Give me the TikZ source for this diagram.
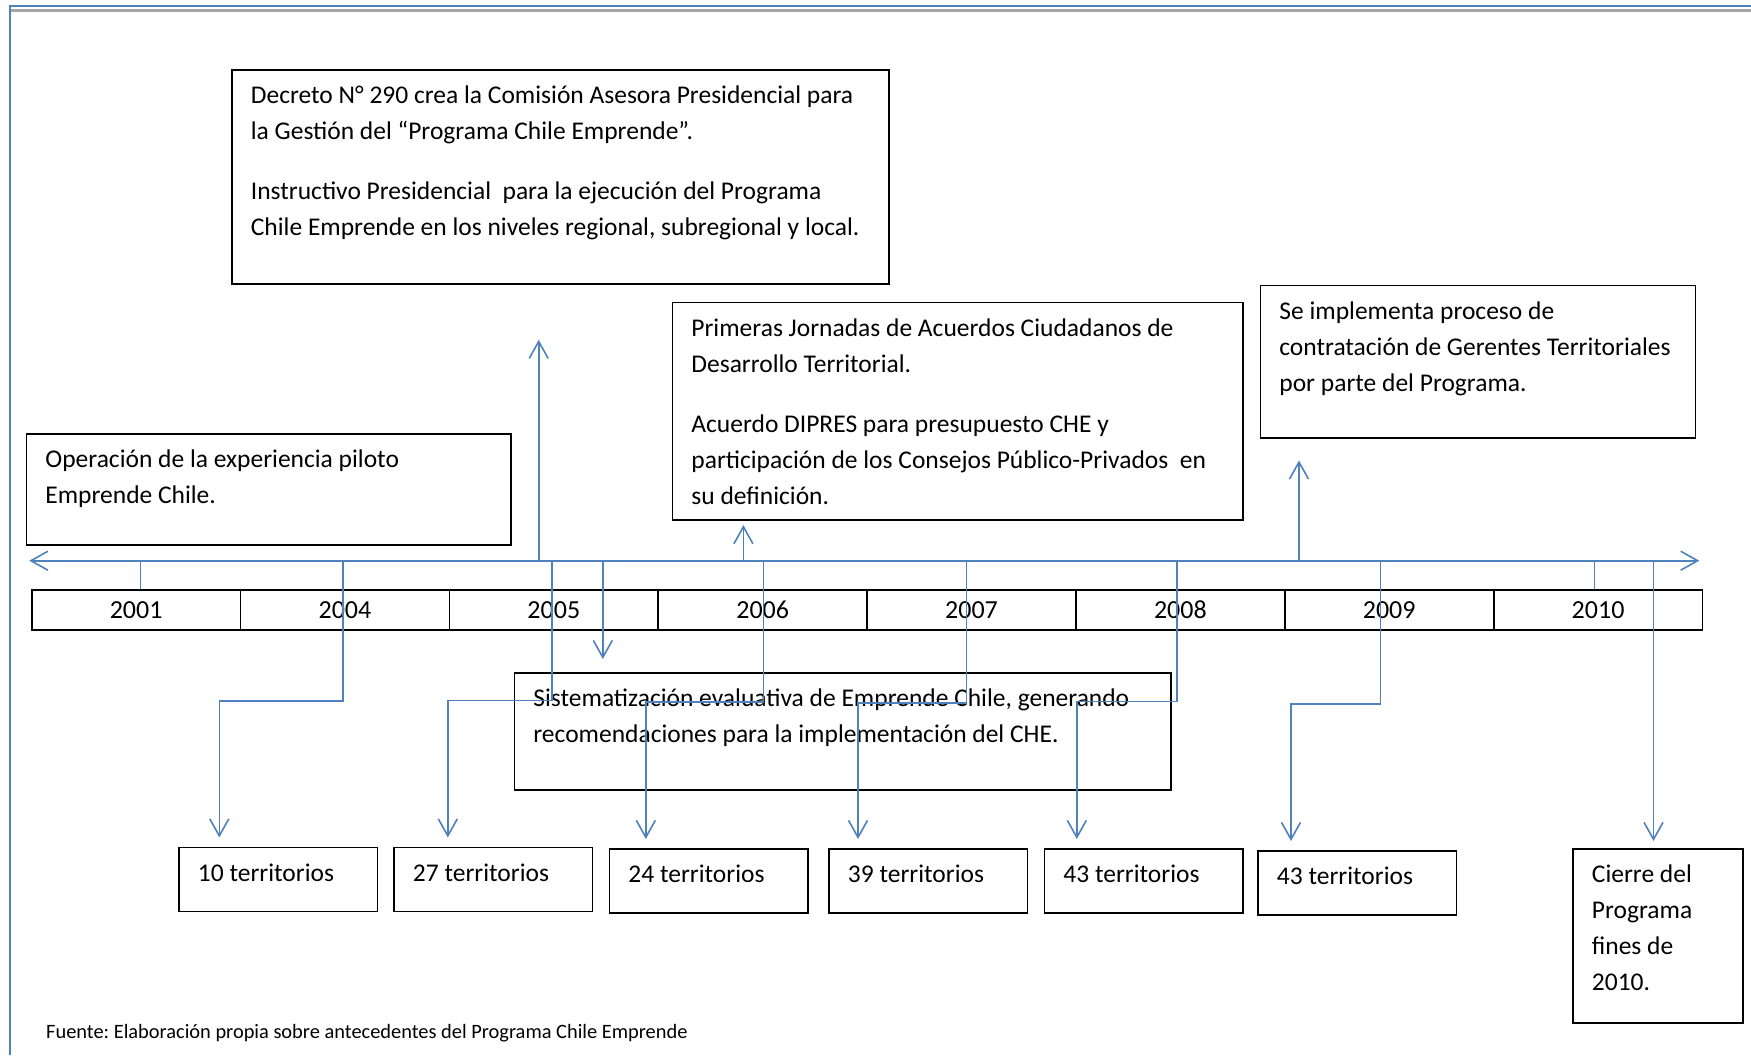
\documentclass[tikz,border=0pt]{standalone}
\usepackage{fontspec}
\setmainfont{Carlito}
\usetikzlibrary{arrows.meta}
\definecolor{chblue}{HTML}{4F81BD}
\definecolor{framegray}{HTML}{A5A5A5}
\frenchspacing
\newcommand{\boxtxt}[3]{\parbox[c][#2][t]{#1}{\raggedright\rule{0pt}{34pt}#3}}
\tikzset{
  evbox/.style={draw=black, line width=1.8pt, anchor=north west, inner xsep=19pt, inner ysep=0pt},
  yearcell/.style={draw=black, line width=1.8pt, minimum width=208.85pt, minimum height=40pt, inner sep=0pt, font=\fontsize{26}{30}\selectfont},
  yrtick/.style={draw=chblue, line width=1.6pt},
  tline/.style={draw=chblue, line width=1.6pt, {Straight Barb[length=17pt,width=19pt]}-{Straight Barb[length=17pt,width=19pt]}},
  conn/.style={draw=chblue, line width=1.6pt, -{Straight Barb[length=17pt,width=19pt]}}
}
\begin{document}
\begin{tikzpicture}[x=1pt, y=-1pt, font=\fontsize{25.5}{36}\selectfont]
\useasboundingbox (0,0) rectangle (1751,1055);

% frame
\draw[chblue, line width=2pt] (10,1055) -- (10,5.5) -- (1751,5.5);
\draw[framegray, line width=2.4pt] (11,10.5) -- (1751,10.5);

% event boxes
\node[evbox] (dec) at (231,69) {\boxtxt{619pt}{214pt}{Decreto N° 290 crea la Comisión Asesora Presidencial para\\ la Gestión del “Programa Chile Emprende”.\\[24pt] Instructivo Presidencial\ \ para la ejecución del Programa\\ Chile Emprende en los niveles regional, subregional y local.}};
\node[evbox] (ope) at (25.5,433) {\boxtxt{446.5pt}{111pt}{Operación de la experiencia piloto\\ Emprende Chile.}};
\node[evbox] (pri) at (671.5,301.5) {\boxtxt{532.5pt}{217.5pt}{Primeras Jornadas de Acuerdos Ciudadanos de\\ Desarrollo Territorial.\\[24pt] Acuerdo DIPRES para presupuesto CHE y\\ participación de los Consejos Público-Privados\ \ en\\ su definición.}};
\node[evbox] (imp) at (1259.5,284.5) {\boxtxt{397pt}{152.5pt}{Se implementa proceso de\\ contratación de Gerentes Territoriales\\ por parte del Programa.}};
\node[evbox] (sis) at (513.5,672) {\boxtxt{618.5pt}{117pt}{Sistematización evaluativa de Emprende Chile, generando\\ recomendaciones para la implementación del CHE.}};

\foreach \nm/\x/\y/\num in {t10/178/846.5/10, t27/393/846.5/27, t24/608.5/848/24, t39/828/848/39, t43a/1043.5/848/43, t43b/1257/850/43}
  \node[evbox] (\nm) at (\x,\y) {\boxtxt{160.5pt}{64pt}{\num\ territorios}};
\node[evbox] (cie) at (1572,848) {\boxtxt{132pt}{174pt}{Cierre del\\ Programa\\ fines de\\ 2010.}};

% years
\foreach \yr [count=\i] in {2001,2004,2005,2006,2007,2008,2009,2010}
  \node[yearcell] (y\yr) at ({31.7+208.85*(\i-0.5)},610) {\yr};

% timeline
\coordinate (tlW) at (29.3,560.7);
\coordinate (tlE) at (1699.3,560.7);
\draw[tline] (tlW) -- (tlE);

\foreach \nm/\x in {k2001/140.6, k2010/1594.5, e2004/342.7, eDec/538.7, e2005/551.7, eSis/602.8, ePri/743.4, e2006/763.5, e2007/966.5, e2008/1177.2, eImp/1299, e2009/1380.4, eCie/1653.5}
  \coordinate (\nm) at (\x,560.7);

\draw[yrtick] (k2001) -- (k2001 |- y2001.north);
\draw[yrtick] (k2010) -- (k2010 |- y2010.north);

% arrows up and straight down
\foreach \ev/\bx/\an/\sh in {eDec/dec/south/-55, ePri/pri/south/-4.3, eImp/imp/south/-21.6, eSis/sis/north/13, eCie/cie/north/7}
{
  \path ([yshift=\sh pt]\bx.\an) coordinate (tip);
  \draw[conn] (\ev) -- (\ev |- tip);
}

% drops to territorios
\foreach \ev/\bx/\dx/\dy in {e2004/t10/41.3/140, e2005/t27/54.8/139.6, e2006/t24/37.3/141.3, e2007/t39/30/142.3, e2008/t43a/33.3/140.6, e2009/t43b/34/143}
  \draw[conn] (\ev) -- ++(0,\dy) -| ([xshift=\dx pt,yshift=9pt]\bx.north west);

\node[anchor=base west, inner sep=0pt, font=\fontsize{20.4}{24}\selectfont] (src) at (46,1038) {Fuente: Elaboración propia sobre antecedentes del Programa Chile Emprende};

\end{tikzpicture}
\end{document}
